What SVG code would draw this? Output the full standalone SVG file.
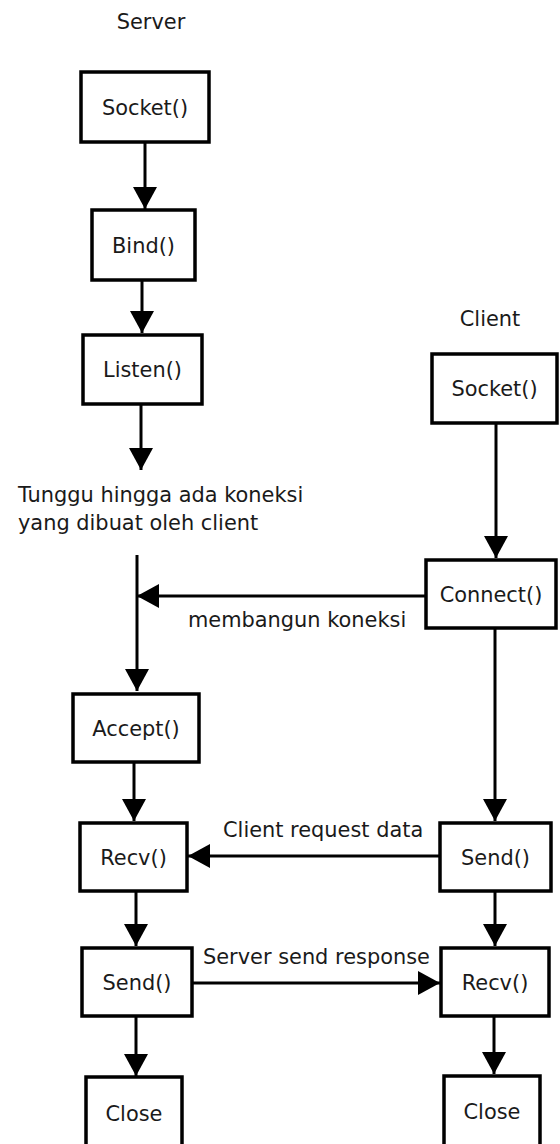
<svg xmlns="http://www.w3.org/2000/svg" width="560" height="1144" viewBox="0 0 560 1144">
  <style>
    text { font-family: "DejaVu Sans", Verdana, sans-serif; font-size: 20.9px; fill: #1a1a1a; }
    .lbl { text-anchor: middle; }
    .box { fill: #fff; stroke: #000; stroke-width: 3.5; }
    .edge { fill: none; stroke: #000; stroke-width: 3; }
  </style>
  <defs>
    <marker id="head" markerUnits="userSpaceOnUse" viewBox="0 0 22 24" markerWidth="22" markerHeight="24" refX="22" refY="12" orient="auto">
      <path d="M0,0 L22,12 L0,24 Z" fill="#000"/>
    </marker>
  </defs>

  <!-- column titles -->
  <text class="lbl" x="151" y="29">Server</text>
  <text class="lbl" x="490" y="326">Client</text>

  <!-- connectors -->
  <g id="connectors">
    <path class="edge" d="M145,143 V209" marker-end="url(#head)"/>
    <path class="edge" d="M142,281 V333" marker-end="url(#head)"/>
    <path class="edge" d="M141,405 V470" marker-end="url(#head)"/>
    <path class="edge" d="M137,555 V691" marker-end="url(#head)"/>
    <path class="edge" d="M425,596 H137" marker-end="url(#head)"/>
    <path class="edge" d="M496,424 V558" marker-end="url(#head)"/>
    <path class="edge" d="M495,629 V821" marker-end="url(#head)"/>
    <path class="edge" d="M134,763 V821" marker-end="url(#head)"/>
    <path class="edge" d="M439,856 H188" marker-end="url(#head)"/>
    <path class="edge" d="M136,892 V946" marker-end="url(#head)"/>
    <path class="edge" d="M193,983 H440" marker-end="url(#head)"/>
    <path class="edge" d="M495,892 V946" marker-end="url(#head)"/>
    <path class="edge" d="M136,1017 V1076" marker-end="url(#head)"/>
    <path class="edge" d="M494,1017 V1074" marker-end="url(#head)"/>
  </g>

  <!-- edge labels -->
  <text x="18" y="502">Tunggu hingga ada koneksi</text>
  <text x="18" y="530">yang dibuat oleh client</text>
  <text x="188" y="627">membangun koneksi</text>
  <text x="223" y="837">Client request data</text>
  <text x="203" y="964">Server send response</text>

  <!-- server side -->
  <g id="srv-socket"><rect class="box" x="81" y="72" width="128" height="70"/><text class="lbl" x="145" y="115">Socket()</text></g>
  <g id="srv-bind"><rect class="box" x="92" y="210" width="103" height="70"/><text class="lbl" x="143.5" y="253">Bind()</text></g>
  <g id="srv-listen"><rect class="box" x="83" y="335" width="119" height="69"/><text class="lbl" x="142.5" y="377">Listen()</text></g>
  <g id="srv-accept"><rect class="box" x="73" y="694" width="126" height="68"/><text class="lbl" x="136" y="736">Accept()</text></g>
  <g id="srv-recv"><rect class="box" x="80" y="823" width="107" height="68"/><text class="lbl" x="133.5" y="865">Recv()</text></g>
  <g id="srv-send"><rect class="box" x="82" y="948" width="110" height="68"/><text class="lbl" x="137" y="990">Send()</text></g>
  <g id="srv-close"><rect class="box" x="86" y="1077" width="96" height="72"/><text class="lbl" x="134" y="1121">Close</text></g>

  <!-- client side -->
  <g id="cli-socket"><rect class="box" x="432" y="354" width="125" height="69"/><text class="lbl" x="494.5" y="396">Socket()</text></g>
  <g id="cli-connect"><rect class="box" x="426" y="560" width="130" height="68"/><text class="lbl" x="491" y="602">Connect()</text></g>
  <g id="cli-send"><rect class="box" x="440" y="823" width="111" height="68"/><text class="lbl" x="495.5" y="865">Send()</text></g>
  <g id="cli-recv"><rect class="box" x="441" y="948" width="108" height="68"/><text class="lbl" x="495" y="990">Recv()</text></g>
  <g id="cli-close"><rect class="box" x="444" y="1076" width="96" height="72"/><text class="lbl" x="492" y="1119">Close</text></g>
</svg>
